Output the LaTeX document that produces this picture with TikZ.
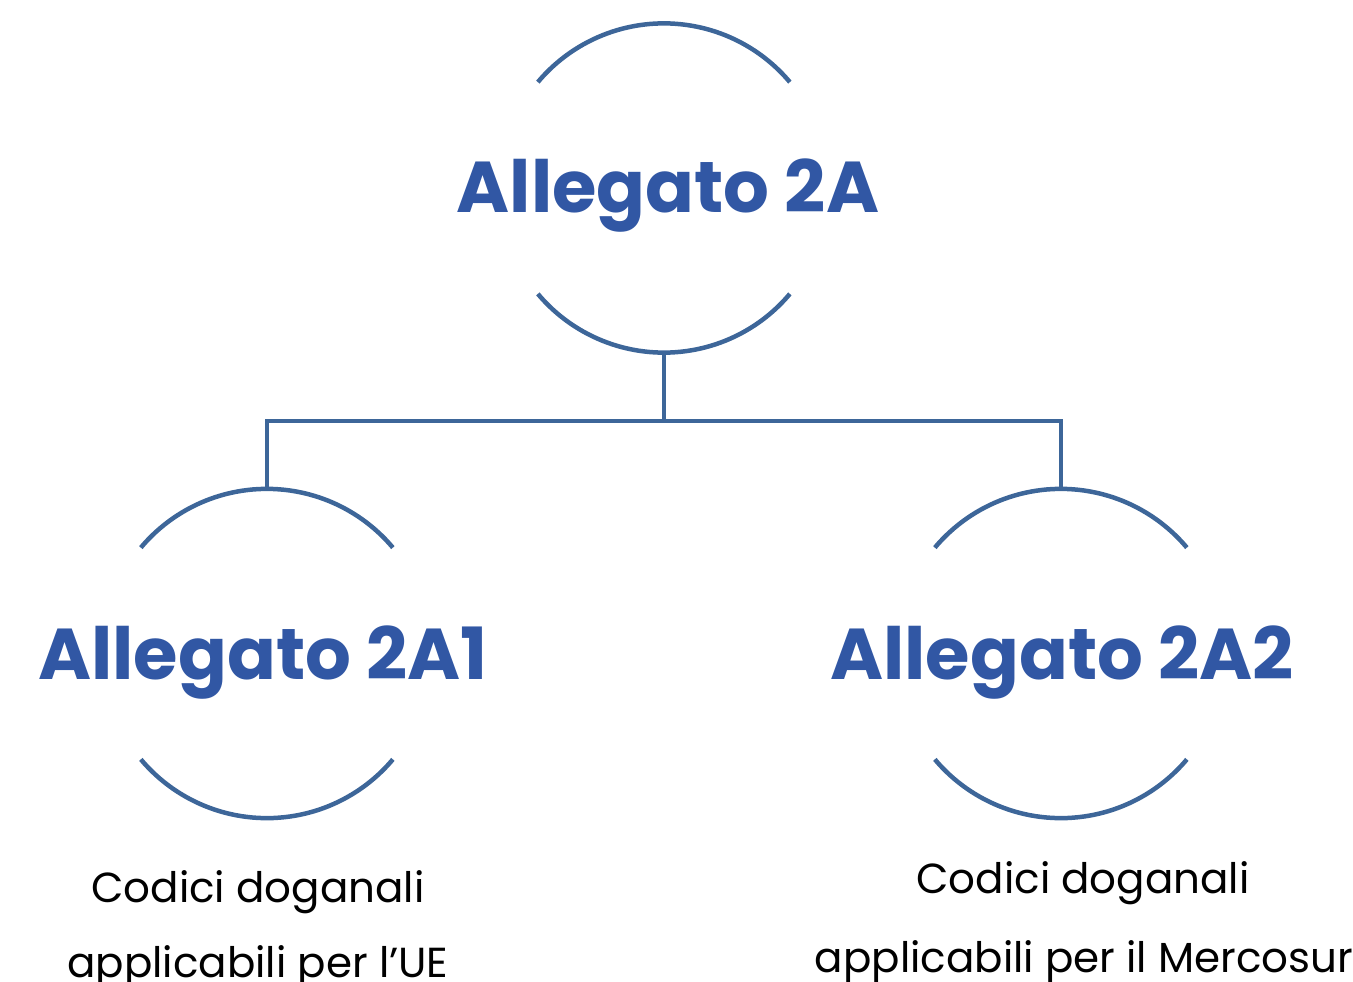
\documentclass[tikz,border=0pt]{standalone}
\usepackage{fontspec}
\setmainfont{Poppins}
\definecolor{headblue}{HTML}{3157A4}
\definecolor{lineblue}{HTML}{3D6699}
\begin{document}
\begin{tikzpicture}[x=1pt,y=-1pt,
  ring/.style={circle,minimum size=329pt,inner sep=0pt,draw=none},
  heading/.style={anchor=base,text=headblue,font=\fontsize{72}{76}\selectfont\bfseries},
  body/.style={anchor=base,text=black,font=\fontsize{42}{48}\selectfont},
  link/.style={draw=lineblue,line width=4.5pt}]
\useasboundingbox (0,0) rectangle (1353,982);
\node[ring] (top) at (664,188) {};
\node[ring] (left) at (267,653.5) {};
\node[ring] (right) at (1061,653.5) {};
\foreach \n in {top,left,right}{
  \draw[link] (\n.140) arc[start angle=140,end angle=40,radius=164.5pt];
  \draw[link] (\n.220) arc[start angle=220,end angle=320,radius=164.5pt];
}
\node[heading] (ht) at (668,212) {Allegato 2A};
\node[heading] (hl) at (263,679) {Allegato 2A1};
\node[heading] (hr) at (1062,679) {Allegato 2A2};
\node[body] (l1) at (258,902) {Codici doganali};
\node[body] (l2) at (258,977) {applicabili per l’UE};
\node[body] (r1) at (1083,893) {Codici doganali};
\node[body] (r2) at (1084,972) {applicabili per il Mercosur};
\coordinate (junc) at (664,421);
\draw[link] (top.south) -- (junc);
\draw[link] (junc) -| (left.north);
\draw[link] (junc) -| (right.north);
\end{tikzpicture}
\end{document}
